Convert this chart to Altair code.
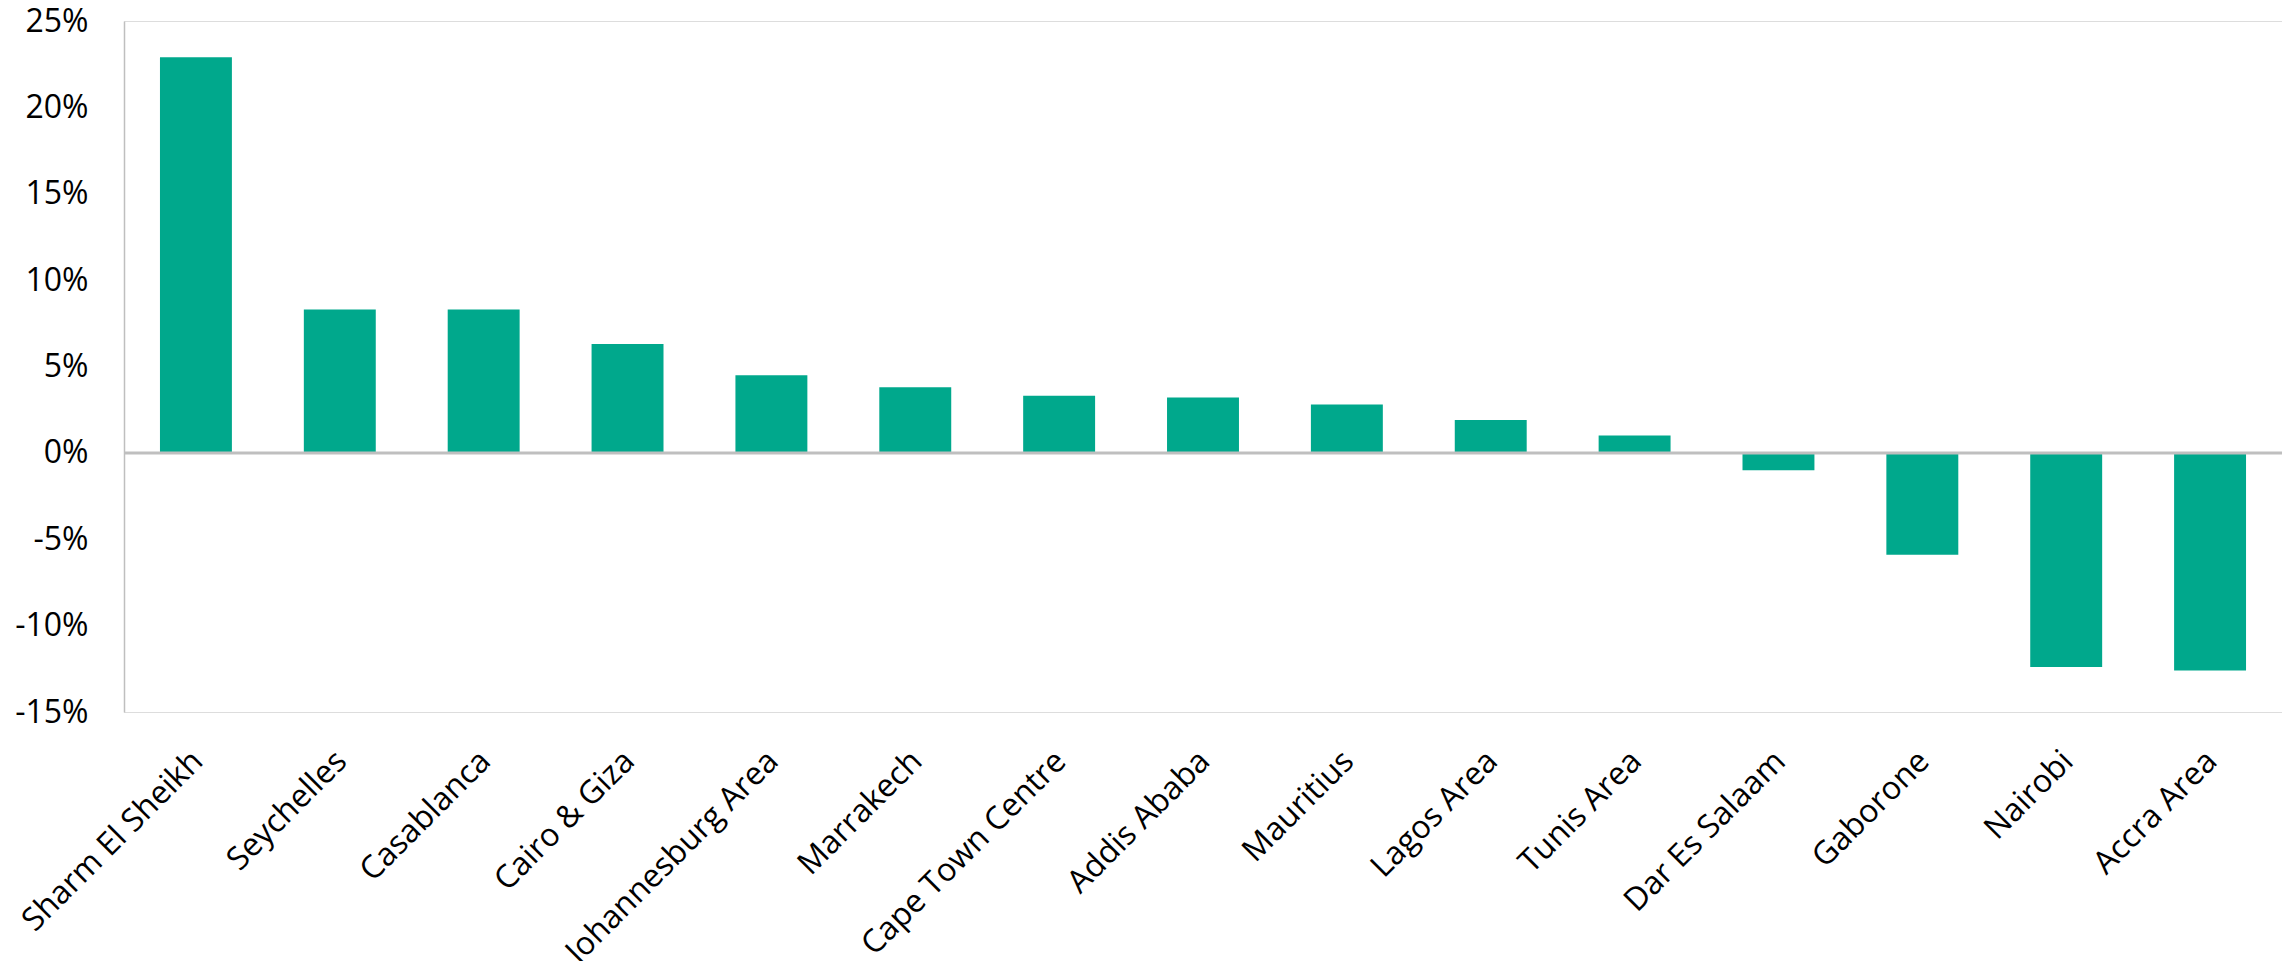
import altair as alt
import pandas as pd

cities = [
    "Sharm El Sheikh", "Seychelles", "Casablanca", "Cairo & Giza",
    "Johannesburg Area", "Marrakech", "Cape Town Centre", "Addis Ababa",
    "Mauritius", "Lagos Area", "Tunis Area", "Dar Es Salaam", "Gaborone",
    "Nairobi", "Accra Area",
]
growth = [22.9, 8.3, 8.3, 6.3, 4.5, 3.8, 3.3, 3.2, 2.8, 1.9, 1.0, -1.0, -5.9, -12.4, -12.6]
y_ticks = [-15, -10, -5, 0, 5, 10, 15, 20, 25]

df = pd.DataFrame({"city": cities, "growth": growth})
zero = pd.DataFrame({"z": [0]})

FONT = "Open Sans"
GRAY = "#bfbfbf"

y_scale = alt.Scale(domain=[-15, 25], nice=False, zero=False)

bars = alt.Chart(df).mark_bar(color="#00A88C").encode(
    x=alt.X(
        "city:N",
        sort=cities,
        scale=alt.Scale(paddingInner=0.5, paddingOuter=0.25),
        axis=alt.Axis(
            title=None, domain=False, ticks=False, labelAngle=-45,
            labelAlign="right", labelBaseline="top", labelPadding=33,
            labelOffset=-9, labelFont=FONT, labelFontSize=32,
            labelColor="#000000", labelLimit=0, labelOverlap=False,
        ),
    ),
    y=alt.Y(
        "growth:Q",
        scale=y_scale,
        axis=alt.Axis(
            title=None, values=y_ticks, grid=False, ticks=False,
            domainColor=GRAY, domainWidth=1.5, labelPadding=36,
            labelFont=FONT, labelFontSize=32, labelColor="#000000",
            labelExpr="datum.value + '%'",
        ),
    ),
)

zline = alt.Chart(zero).mark_rule(color=GRAY, strokeWidth=3).encode(
    y=alt.Y("z:Q", scale=y_scale)
)

chart = alt.layer(bars, zline).properties(
    width=2158,
    height=691,
    autosize=alt.AutoSizeParams(type="none"),
    padding={"left": 116, "top": 13, "right": 0, "bottom": 249},
).configure_view(stroke=None).configure(background="white")

chart.save("out.html", embed_options={"renderer": "svg", "actions": False})
